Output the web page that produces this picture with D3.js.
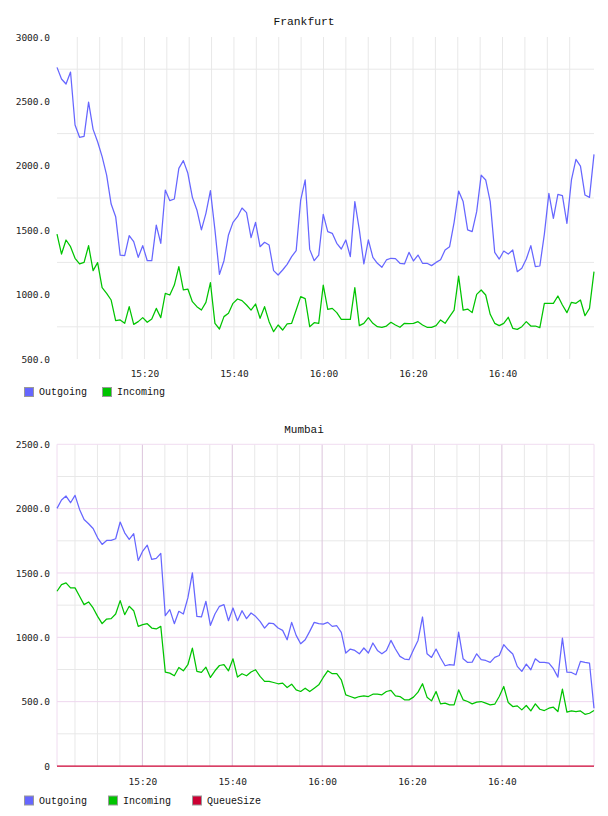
<!DOCTYPE html>
<html>
<head>
<meta charset="utf-8">
<script src="https://cdn.jsdelivr.net/npm/d3@7"></script>
<style>
  body { margin: 0; background: #fff; }
  svg { display: block; }
  .axis text { font-family: 'DejaVu Sans Mono', monospace; font-size: 9.5px; fill: #222; }
  .title, .legend text { font-family: 'Liberation Mono', monospace; fill: #111; }
</style>
</head>
<body>
<svg id="chart" width="608" height="816"></svg>
<script>
const seriesNames = ['Outgoing', 'Incoming', 'QueueSize'];
const seriesColors = ['#6666ff', '#00c400', '#cc0033'];

const frankfurtOutgoing = [
  2764, 2674, 2635, 2728, 2317, 2221, 2229, 2495, 2283, 2187,
  2071, 1928, 1703, 1605, 1307, 1302, 1458, 1411, 1289, 1380,
  1263, 1263, 1540, 1398, 1812, 1729, 1742, 1980, 2040, 1942,
  1755, 1657, 1502, 1631, 1807, 1502, 1157, 1263, 1463, 1561,
  1605, 1672, 1636, 1442, 1561, 1372, 1406, 1385, 1186, 1152,
  1191, 1235, 1295, 1341, 1734, 1890, 1351, 1263, 1307, 1623,
  1489, 1476, 1398, 1354, 1424, 1295, 1722, 1502, 1238, 1424,
  1289, 1243, 1212, 1269, 1282, 1279, 1243, 1238, 1328, 1261,
  1307, 1243, 1243, 1225, 1250, 1271, 1346, 1372, 1561, 1804,
  1722, 1502, 1489, 1644, 1928, 1890, 1722, 1328, 1276, 1338,
  1315, 1346, 1178, 1204, 1276, 1380, 1217, 1222, 1470, 1786,
  1592, 1778, 1768, 1553, 1890, 2050, 1998, 1773, 1755, 2089
];
const frankfurtIncoming = [
  1470, 1315, 1424, 1372, 1282, 1238, 1250, 1380, 1186, 1248,
  1054, 1010, 958, 798, 803, 777, 906, 769, 790, 821,
  785, 811, 893, 821, 1010, 997, 1074, 1217, 1036, 1043,
  945, 906, 880, 940, 1093, 777, 733, 829, 855, 932,
  966, 953, 919, 880, 927, 816, 906, 790, 712, 764,
  725, 772, 777, 880, 984, 969, 751, 782, 777, 1074,
  885, 893, 860, 808, 808, 808, 1054, 759, 777, 821,
  777, 751, 746, 756, 785, 764, 746, 777, 774, 777,
  790, 764, 746, 746, 759, 803, 777, 829, 880, 1144,
  880, 888, 860, 1002, 1036, 997, 847, 777, 759, 777,
  824, 738, 730, 751, 790, 756, 756, 743, 932, 932,
  932, 989, 919, 860, 940, 932, 958, 836, 893, 1178
];
const mumbaiOutgoing = [
  2002, 2067, 2098, 2046, 2103, 1994, 1916, 1883, 1846, 1773,
  1722, 1753, 1753, 1766, 1896, 1812, 1761, 1805, 1597, 1670,
  1716, 1605, 1613, 1652, 1168, 1215, 1106, 1202, 1181, 1306,
  1501, 1163, 1158, 1280, 1093, 1181, 1241, 1254, 1129, 1228,
  1129, 1207, 1145, 1189, 1163, 1124, 1072, 1111, 1106, 1072,
  1054, 981, 1116, 1015, 950, 981, 1046, 1116, 1106, 1103,
  1116, 1085, 1090, 1039, 878, 909, 898, 872, 917, 878,
  956, 898, 872, 898, 976, 909, 852, 831, 826, 903,
  976, 1158, 872, 844, 909, 839, 779, 787, 784, 1041,
  833, 805, 807, 872, 826, 820, 805, 844, 859, 943,
  903, 870, 774, 735, 792, 748, 833, 805, 805, 800,
  756, 691, 994, 730, 727, 709, 813, 805, 800, 449
];
const mumbaiIncoming = [
  1358, 1410, 1423, 1384, 1384, 1319, 1254, 1275, 1228, 1163,
  1106, 1142, 1145, 1181, 1285, 1176, 1241, 1207, 1085, 1098,
  1106, 1072, 1065, 1085, 730, 722, 701, 766, 740, 787,
  916, 735, 727, 768, 688, 740, 781, 787, 740, 833,
  691, 717, 701, 730, 748, 696, 657, 657, 649, 639,
  644, 610, 636, 592, 579, 605, 579, 605, 631, 688,
  740, 717, 717, 670, 553, 540, 527, 540, 545, 540,
  558, 558, 553, 579, 587, 545, 540, 514, 514, 535,
  574, 639, 535, 506, 579, 483, 488, 475, 475, 592,
  514, 501, 483, 496, 501, 488, 475, 480, 540, 618,
  493, 462, 467, 436, 470, 428, 483, 441, 431, 449,
  457, 423, 597, 418, 428, 423, 428, 402, 410, 431
];
const mumbaiQueueSize = [
  0, 0, 0, 0, 0, 0, 0, 0, 0, 0, 0, 0, 0, 0, 0, 0, 0, 0, 0, 0,
  0, 0, 0, 0, 0, 0, 0, 0, 0, 0, 0, 0, 0, 0, 0, 0, 0, 0, 0, 0,
  0, 0, 0, 0, 0, 0, 0, 0, 0, 0, 0, 0, 0, 0, 0, 0, 0, 0, 0, 0,
  0, 0, 0, 0, 0, 0, 0, 0, 0, 0, 0, 0, 0, 0, 0, 0, 0, 0, 0, 0,
  0, 0, 0, 0, 0, 0, 0, 0, 0, 0, 0, 0, 0, 0, 0, 0, 0, 0, 0, 0,
  0, 0, 0, 0, 0, 0, 0, 0, 0, 0, 0, 0, 0, 0, 0, 0, 0, 0, 0, 0
];

const xTickLabels = ['15:20', '15:40', '16:00', '16:20', '16:40'];
const frankfurtYTicks = [3000, 2500, 2000, 1500, 1000, 500];
const frankfurtGrid = [2750, 2250, 1750, 1250, 750];
const mumbaiYTicks = [2500, 2000, 1500, 1000, 500, 0];
const mumbaiMinorGrid = [2250, 1750, 1250, 750, 250];
const mumbaiMajorGrid = [2000, 1500, 1000, 500];

const day = (h, m, s) => new Date(2020, 0, 1, h, m, s);
const parseTick = (label) => {
  const [h, m] = label.split(':').map(Number);
  return day(h, m, 0);
};

const svg = d3.select('#chart');
const PLOT_LEFT = 57;
const PLOT_RIGHT = 594;

function drawPanel(cfg) {
  const g = svg.append('g');
  const x = d3.scaleTime().domain([cfg.start, cfg.end]).range([PLOT_LEFT, PLOT_RIGHT]);
  const y = d3.scaleLinear().domain([cfg.yMin, cfg.yMax]).range([cfg.bottom, cfg.top]);

  // 5 minute vertical grid, 20 minute marks are "major" in the styled panel
  const gridTimes = x.ticks(d3.timeMinute.every(5)).filter((t) => x(t) < PLOT_RIGHT - 3);
  const majorTimes = xTickLabels.map(parseTick);
  const isMajor = (t) => cfg.pinkGrid && majorTimes.some((m) => +m === +t);

  g.append('g')
    .selectAll('line.h')
    .data(cfg.minorGrid)
    .join('line')
    .attr('x1', PLOT_LEFT).attr('x2', PLOT_RIGHT)
    .attr('y1', (d) => y(d)).attr('y2', (d) => y(d))
    .attr('stroke', '#e8e8e8');

  g.append('g')
    .selectAll('line')
    .data(gridTimes.filter((t) => !isMajor(t)))
    .join('line')
    .attr('x1', (d) => x(d)).attr('x2', (d) => x(d))
    .attr('y1', cfg.top).attr('y2', cfg.bottom)
    .attr('stroke', '#e8e8e8');

  if (cfg.pinkGrid) {
    g.append('g')
      .selectAll('line')
      .data(cfg.majorGrid)
      .join('line')
      .attr('x1', PLOT_LEFT).attr('x2', PLOT_RIGHT)
      .attr('y1', (d) => y(d)).attr('y2', (d) => y(d))
      .attr('stroke', '#eed6ee');

    g.append('g')
      .selectAll('line')
      .data(gridTimes.filter(isMajor))
      .join('line')
      .attr('x1', (d) => x(d)).attr('x2', (d) => x(d))
      .attr('y1', cfg.top).attr('y2', cfg.bottom)
      .attr('stroke', '#dcc4dc');

    const border = g.append('g').attr('stroke', '#f0dcf0').attr('fill', 'none');
    border.append('path')
      .attr('d', `M${PLOT_LEFT},${cfg.bottom}V${y(cfg.yMax)}H${PLOT_RIGHT}V${cfg.bottom}`);
  }

  const yAxis = g.append('g')
    .attr('class', 'axis')
    .attr('transform', `translate(${PLOT_LEFT},0)`)
    .call(d3.axisLeft(y).tickValues(cfg.yTicks).tickSize(0).tickPadding(7)
      .tickFormat((d) => (d === 0 ? '0' : d3.format('.1f')(d))));
  yAxis.select('.domain').remove();

  const xAxis = g.append('g')
    .attr('class', 'axis')
    .attr('transform', `translate(0,${cfg.bottom})`)
    .call(d3.axisBottom(x).tickValues(majorTimes).tickSize(0).tickPadding(cfg.xPad)
      .tickFormat(d3.timeFormat('%H:%M')));
  xAxis.select('.domain').remove();

  const n = cfg.series[0].values.length;
  const step = (cfg.end - cfg.start) / (n - 1);
  const line = d3.line()
    .x((d, i) => x(new Date(+cfg.start + i * step)))
    .y((d) => y(d));

  g.append('g')
    .selectAll('path')
    .data(cfg.series)
    .join('path')
    .attr('d', (s) => line(s.values))
    .attr('fill', 'none')
    .attr('stroke', (s) => s.color)
    .attr('stroke-width', 1.25)
    .attr('stroke-linejoin', 'round');

  svg.append('text')
    .attr('class', 'title')
    .attr('x', 304)
    .attr('y', cfg.titleY)
    .attr('text-anchor', 'middle')
    .attr('font-size', cfg.titleSize)
    .text(cfg.title);

  const legend = svg.append('g').attr('class', 'legend');
  const items = legend.selectAll('g')
    .data(cfg.series)
    .join('g')
    .attr('transform', (s, i) => `translate(${cfg.legendX[i]},${cfg.legendY})`);
  items.append('rect')
    .attr('x', 0.5).attr('y', 0.5)
    .attr('width', 9).attr('height', 9)
    .attr('fill', (s) => s.color)
    .attr('stroke', '#999');
  items.append('text')
    .attr('x', 15)
    .attr('y', 8)
    .attr('font-size', '10px')
    .text((s) => s.name);
}

drawPanel({
  title: 'Frankfurt',
  titleY: 25,
  titleSize: '11.3px',
  top: 37,
  bottom: 359,
  yMin: 500,
  yMax: 3000,
  yTicks: frankfurtYTicks,
  minorGrid: frankfurtGrid,
  pinkGrid: false,
  xPad: 11.5,
  start: day(15, 0, 28),
  end: day(17, 0, 26),
  series: [
    { name: seriesNames[0], color: seriesColors[0], values: frankfurtOutgoing },
    { name: seriesNames[1], color: seriesColors[1], values: frankfurtIncoming },
  ],
  legendX: [24, 102],
  legendY: 387,
});

drawPanel({
  title: 'Mumbai',
  titleY: 433,
  titleSize: '11px',
  top: 444.3,
  bottom: 766,
  yMin: 0,
  yMax: 2500,
  yTicks: mumbaiYTicks,
  minorGrid: mumbaiMinorGrid,
  majorGrid: mumbaiMajorGrid,
  pinkGrid: true,
  xPad: 12.3,
  start: day(15, 1, 0),
  end: day(17, 0, 30),
  series: [
    { name: seriesNames[0], color: seriesColors[0], values: mumbaiOutgoing },
    { name: seriesNames[1], color: seriesColors[1], values: mumbaiIncoming },
    { name: seriesNames[2], color: seriesColors[2], values: mumbaiQueueSize },
  ],
  legendX: [24, 108, 192],
  legendY: 795.5,
});
</script>
</body>
</html>
